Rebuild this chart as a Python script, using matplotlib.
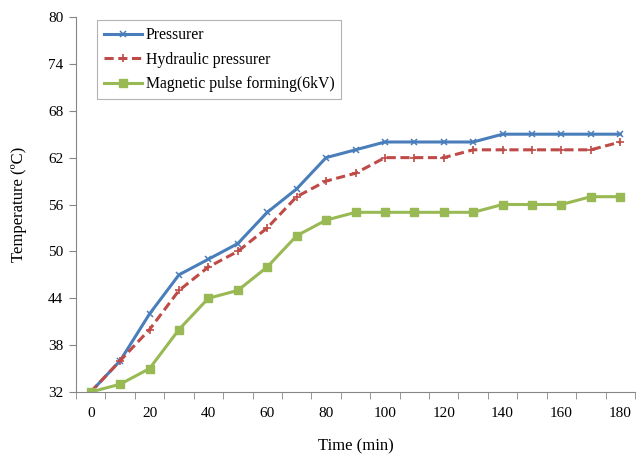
import numpy as np
import matplotlib.pyplot as plt

times = [0, 10, 20, 30, 40, 50, 60, 70, 80, 90, 100, 110, 120, 130, 140, 150, 160, 170, 180]
pressurer = [32, 36, 42, 47, 49, 51, 55, 58, 62, 63, 64, 64, 64, 64, 65, 65, 65, 65, 65]
hydraulic = [32, 36, 40, 45, 48, 50, 53, 57, 59, 60, 62, 62, 62, 63, 63, 63, 63, 63, 64]
magnetic = [32, 33, 35, 40, 44, 45, 48, 52, 54, 55, 55, 55, 55, 55, 56, 56, 56, 57, 57]
y_ticks = [32, 38, 44, 50, 56, 62, 68, 74, 80]

plt.rcParams['font.family'] = ['Liberation Serif', 'DejaVu Serif']

fig = plt.figure(figsize=(6.43, 4.57), dpi=100)
ax = fig.add_axes([76 / 643, 65 / 457, (635 - 76) / 643, (392 - 17) / 457])

idx = np.arange(len(times))
ax.plot(idx, pressurer, color='#4A7EBB', lw=2.2, marker='x', ms=4.5, mew=1.1,
        label='Pressurer')
ax.plot(idx, hydraulic, color='#BE4B48', lw=2.2, ls=(0, (3, 1.5)), marker='+', ms=6, mew=1.2,
        label='Hydraulic pressurer')
ax.plot(idx, magnetic, color='#98B954', lw=2.2, marker='s', ms=5.5,
        label='Magnetic pulse forming(6kV)')

ax.set_xlim(-0.5, len(times) - 0.5)
ax.set_ylim(32, 80)
# every other category is labelled, as in the original
ax.set_xticks(idx[::2])
ax.set_xticklabels([str(t) for t in times[::2]])
ax.set_xticks(np.arange(-0.5, len(times) + 0.5, 1), minor=True)
ax.tick_params(axis='x', which='major', length=0, pad=11, labelsize=11)
ax.tick_params(axis='x', which='minor', length=5, color='#868686')
ax.set_yticks(y_ticks)
ax.tick_params(axis='y', length=5, color='#868686', labelsize=11, pad=4)

for side in ['top', 'right']:
    ax.spines[side].set_visible(False)
for side in ['left', 'bottom']:
    ax.spines[side].set_color('#868686')

ax.set_xlabel('Time (min)', fontsize=12, labelpad=13)
ax.set_ylabel('Temperature (ºC)', fontsize=12, labelpad=15)

leg = ax.legend(loc='upper left', bbox_to_anchor=(0.0376, 0.992), fontsize=11.3,
                frameon=True, fancybox=False, handlelength=2.4, handletextpad=0.25,
                borderpad=0.45, borderaxespad=0, labelspacing=0.55)
leg.get_frame().set_edgecolor('#A0A0A0')
leg.get_frame().set_linewidth(0.8)

fig.savefig('out.png', dpi=100)
